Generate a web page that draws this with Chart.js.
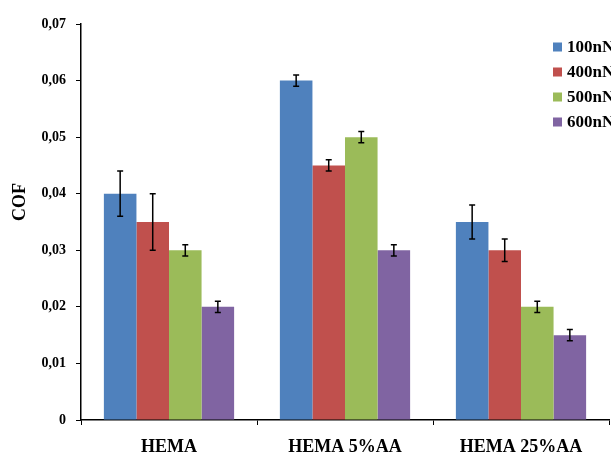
<!DOCTYPE html>
<html>
<head>
<meta charset="utf-8">
<script src="https://cdn.jsdelivr.net/npm/chart.js@4/dist/chart.umd.min.js"></script>
<style>
  html, body { margin: 0; padding: 0; background: #fff; overflow: hidden; }
  #wrap { width: 611px; height: 457px; }
</style>
</head>
<body>
<div id="wrap"><canvas id="cof"></canvas></div>
<script>
const categories = ["HEMA", "HEMA 5%AA", "HEMA 25%AA"];
const loads = ["100nN", "400nN", "500nN", "600nN"];

const cof100 = [0.040, 0.060, 0.035];
const cof400 = [0.035, 0.045, 0.030];
const cof500 = [0.030, 0.050, 0.020];
const cof600 = [0.020, 0.030, 0.015];

const err100 = [0.004, 0.001, 0.003];
const err400 = [0.005, 0.001, 0.002];
const err500 = [0.001, 0.001, 0.001];
const err600 = [0.001, 0.001, 0.001];

const yTicks = [0, 0.01, 0.02, 0.03, 0.04, 0.05, 0.06, 0.07];

const colors = [
    "#4F81BD",  // blue
    "#C0504D",  // red
    "#9BBB59",  // green
    "#8064A2"   // purple
];

const serif = "'Liberation Serif', 'Times New Roman', serif";

function makeDatasets(){
    const values = [cof100, cof400, cof500, cof600];
    const errors = [err100, err400, err500, err600];
    const datasets = [];
    for (let idx=0; idx<values.length; idx++){
        datasets.push({
            label: loads[idx],
            data: values[idx],
            errors: errors[idx],
            backgroundColor: colors[idx],
            borderWidth: 0,
            categoryPercentage: 0.74,
            barPercentage: 1.0
        });
    }
    return datasets;
}

// error bars drawn through the y scale
const errorBars = {
    id: "errorBars",
    afterDatasetsDraw(chart){
        const ctx = chart.ctx;
        const y = chart.scales.y;
        ctx.save();
        ctx.strokeStyle = "#000";
        ctx.lineWidth = 1.5;
        chart.data.datasets.forEach((ds, i) => {
            const meta = chart.getDatasetMeta(i);
            meta.data.forEach((bar, j) => {
                const v = ds.data[j], e = ds.errors[j];
                const top = y.getPixelForValue(v + e);
                const bot = y.getPixelForValue(v - e);
                ctx.beginPath();
                ctx.moveTo(bar.x, top); ctx.lineTo(bar.x, bot);
                ctx.moveTo(bar.x - 3, top); ctx.lineTo(bar.x + 3, top);
                ctx.moveTo(bar.x - 3, bot); ctx.lineTo(bar.x + 3, bot);
                ctx.stroke();
            });
        });
        ctx.restore();
    }
};

// excel-like legend sitting inside the plot, top right
const insideLegend = {
    id: "insideLegend",
    afterDraw(chart){
        const ctx = chart.ctx;
        const area = chart.chartArea;
        const x0 = area.right - 56;
        const y0 = area.top + 23;
        ctx.save();
        ctx.font = "bold 17px " + serif;
        ctx.textBaseline = "middle";
        chart.data.datasets.forEach((ds, i) => {
            const yy = y0 + i * 25;
            ctx.fillStyle = ds.backgroundColor;
            ctx.fillRect(x0, yy - 4.5, 9, 9);
            ctx.fillStyle = "#000";
            ctx.fillText(ds.label, x0 + 14, yy + 1);
        });
        ctx.restore();
    }
};

// y axis title, placed a little above centre like the original
const yTitle = {
    id: "yTitle",
    afterDraw(chart){
        const ctx = chart.ctx;
        const area = chart.chartArea;
        ctx.save();
        ctx.translate(20, (area.top + area.bottom) / 2 - 20);
        ctx.rotate(-Math.PI / 2);
        ctx.font = "bold 18px " + serif;
        ctx.textAlign = "center";
        ctx.textBaseline = "middle";
        ctx.fillStyle = "#000";
        ctx.fillText("COF", 0, 0);
        ctx.restore();
    }
};

new Chart(document.getElementById("cof"), {
    type: "bar",
    data: {
        labels: categories,
        datasets: makeDatasets()
    },
    options: {
        responsive: true,
        maintainAspectRatio: false,
        animation: false,
        layout: { padding: { top: 24, right: 2, left: 0, bottom: 0 } },
        plugins: {
            legend: { display: false },
            tooltip: { enabled: false }
        },
        scales: {
            x: {
                offset: true,
                grid: {
                    display: true,
                    offset: true,
                    drawOnChartArea: false,
                    drawTicks: true,
                    tickLength: 5,
                    color: "#000"
                },
                border: { color: "#000", width: 1.5 },
                ticks: {
                    color: "#000",
                    padding: 12,
                    font: { family: serif, size: 18, weight: "bold" }
                },
                afterFit(scale){ scale.height = 37; }
            },
            y: {
                min: 0,
                max: 0.07,
                afterBuildTicks(scale){
                    scale.ticks = yTicks.map(v => ({ value: v }));
                },
                grid: {
                    display: true,
                    drawOnChartArea: false,
                    drawTicks: true,
                    tickLength: 5,
                    color: "#000"
                },
                border: { color: "#000", width: 1.5 },
                ticks: {
                    color: "#000",
                    padding: 10,
                    font: { family: serif, size: 14, weight: "bold" },
                    callback: v => v === 0 ? "0" : v.toFixed(2).replace(".", ",")
                },
                afterFit(scale){ scale.width = 81; }
            }
        }
    },
    plugins: [errorBars, insideLegend, yTitle]
});
</script>
</body>
</html>
